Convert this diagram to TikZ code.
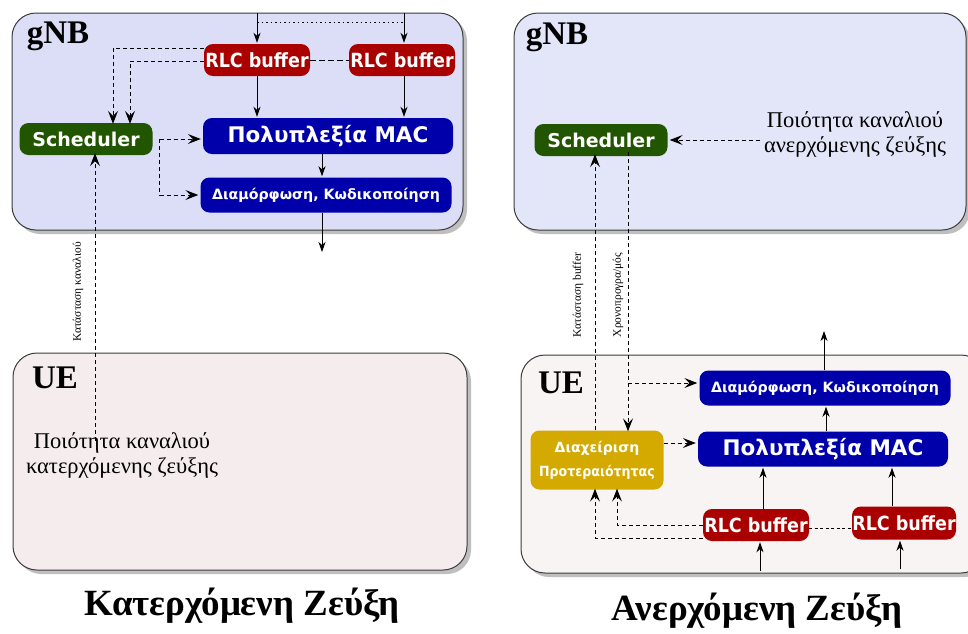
\documentclass[tikz,border=0pt]{standalone}
\usepackage{fontspec}
\setmainfont{Liberation Serif}
\newfontfamily\boxfont{DejaVu Sans}
\newfontfamily\condfont{DejaVu Sans Condensed}
\usetikzlibrary{arrows.meta,shadows}

\definecolor{gnbL}{RGB}{219,222,246}
\definecolor{gnbR}{RGB}{227,230,248}
\definecolor{ueL}{RGB}{244,236,237}
\definecolor{ueR}{RGB}{249,244,244}
\definecolor{rlcred}{RGB}{170,0,0}
\definecolor{macblue}{RGB}{0,0,170}
\definecolor{schedgreen}{RGB}{34,85,0}
\definecolor{prioyellow}{RGB}{212,170,0}
\definecolor{frame}{RGB}{60,60,60}

\tikzset{
  x=1pt, y=-1pt,
  area/.style={draw=frame, line width=1pt, rounded corners=24pt,
    drop shadow={shadow xshift=4pt, shadow yshift=-4pt, opacity=0.5}},
  block/.style={rounded corners=9pt, text=white, inner sep=0pt, font=\boxfont\bfseries},
  rlcbox/.style={block, fill=rlcred, minimum width=106pt, minimum height=32pt,
    font=\condfont\bfseries\fontsize{19.5}{22}\selectfont},
  schedbox/.style={block, fill=schedgreen, minimum width=133pt, minimum height=32pt,
    font=\boxfont\bfseries\fontsize{19}{22}\selectfont},
  macbox/.style={block, fill=macblue, minimum width=250pt, minimum height=36pt,
    font=\boxfont\bfseries\fontsize{21.5}{24}\selectfont},
  modbox/.style={block, fill=macblue, minimum width=251pt, minimum height=35pt,
    font=\boxfont\bfseries\fontsize{14.2}{16}\selectfont},
  priobox/.style={block, fill=prioyellow, minimum width=133pt, minimum height=59pt,
    align=center, font=\boxfont\bfseries\fontsize{14}{24}\selectfont},
  areatitle/.style={font=\bfseries\fontsize{33}{36}\selectfont},
  quality/.style={align=center, inner sep=0pt, font=\fontsize{22.5}{25}\selectfont},
  sidelabel/.style={rotate=90, inner sep=0pt, font=\fontsize{11.5}{13}\selectfont},
  caption/.style={font=\bfseries\fontsize{37}{40}\selectfont},
  ctrl/.style={draw=black, line width=1pt, dash pattern=on 4pt off 3pt,
    -{Stealth[length=13pt, width=10pt, inset=5pt]}, shorten >=2pt},
  data/.style={draw=black, line width=0.9pt,
    -{Stealth[length=10pt, width=7pt, inset=3pt]}, shorten >=1pt},
  link/.style={draw=black, line width=1pt, dash pattern=on 6pt off 3pt},
  linkdot/.style={draw=black, line width=1pt, dash pattern=on 1.5pt off 3pt},
}

\begin{document}
\begin{tikzpicture}
\useasboundingbox (0,0) rectangle (968,633);

% ---------------- downlink ----------------
\draw[area, fill=gnbL] (12,13) rectangle (463,230);
\draw[area, fill=ueL] (13,353) rectangle (467,570);

\node[areatitle] (lgnb) at (58,36) {gNB};
\node[areatitle] (lue) at (55,378) {UE};

\node[rlcbox] (lr1) at (257,60) {RLC buffer};
\node[rlcbox] (lr2) at (402,60) {RLC buffer};
\node[schedbox] (ls) at (86,139) {Scheduler};
\node[macbox] (lm) at (328,136) {Πολυπλεξία MAC};
\node[modbox] (ld) at (326,195) {Διαμόρφωση, Κωδικοποίηση};

\coordinate (lin1) at (257,13);
\coordinate (lin2) at (404,13);
\coordinate (lout) at (322,253);

\draw[data] (lin1) -- (lr1.north);
\draw[data] (lin2) -- (lin2 |- lr2.north);
\draw[linkdot] ([yshift=-9pt]lin1) -- ([yshift=-9pt]lin2);
\draw[link] (lr1.east) -- (lr2.west);

\draw[ctrl] ([yshift=12pt]lr1.west) -| ([xshift=27pt,yshift=-3pt]ls.north);
\draw[ctrl] ([yshift=-1pt]lr1.west) -| ([xshift=44pt,yshift=-3pt]ls.north);

\draw[data] (lr1.south) -- (lr1.south |- lm.north);
\draw[data] (lin2 |- lr2.south) -- (lin2 |- lm.north);

\draw[ctrl] ([xshift=7pt]ls.east) -- (ls.east -| lm.west);
\draw[ctrl] ([xshift=7pt]ls.east) |- (ld.west);

\draw[data] ([xshift=-6pt]lm.south) -- ([xshift=-4pt]ld.north);
\draw[data] ([xshift=-4pt]ld.south) -- (lout);

\node[quality] (lq) at (122,455) {Ποιότητα καναλιού\\κατερχόμενης ζεύξης};
\draw[ctrl] ([xshift=-27pt,yshift=-9pt]lq.north) -- ([xshift=9pt,yshift=4pt]ls.south);
\node[sidelabel] (lcs) at (78,292) {Κατάσταση καναλιού};

\node[caption] (lcap) at (242,606) {Κατερχόμενη Ζεύξη};

% ---------------- uplink ----------------
\draw[area, fill=gnbR] (514,13) rectangle (966,230);
\draw[area, fill=ueR] (521,355) rectangle (985,573);

\node[areatitle] (rgnb) at (557,37) {gNB};
\node[areatitle] (rue) at (561,383) {UE};

\node[schedbox] (rs) at (601,140) {Scheduler};
\node[quality] (rq) at (855,134) {Ποιότητα καναλιού\\ανερχόμενης ζεύξης};
\draw[ctrl] ([xshift=-4pt]rq.west |- rs.east) -- (rs.east);

\node[modbox] (rd) at (825,388) {Διαμόρφωση, Κωδικοποίηση};
\node[macbox, minimum height=35pt] (rm) at (823,449) {Πολυπλεξία MAC};
\node[priobox] (rp) at (597,460) {Διαχείριση\\{\condfont Προτεραιότητας}};
\node[rlcbox] (rr1) at (756,525) {RLC buffer};
\node[rlcbox, minimum width=104pt, minimum height=33pt] (rr2) at (904,523) {RLC buffer};

\coordinate (rin1) at (760,571);
\coordinate (rin2) at (900,569);
\coordinate (rout) at (824,330);

\draw[ctrl] ([xshift=27pt,yshift=4pt]rs.south) -- ([xshift=31pt,yshift=-3pt]rp.north);
\draw[ctrl] ([xshift=27pt]rs.south |- rd.west) ++(0,-5) -- ([yshift=5pt]rd.west);
\draw[ctrl] ([xshift=-2pt]rp.north) -- ([xshift=-6pt,yshift=4pt]rs.south);
\node[sidelabel] (rcs) at (578,295) {Κατάσταση buffer};
\node[sidelabel] (rcp) at (618,295) {Χρονοπρογρα/μός};

\draw[ctrl] ([yshift=17pt]rp.east) -- ([yshift=17pt]rp.east -| rm.west);

\draw[data] ([xshift=7pt]rr1.north) -- ([xshift=7pt]rr1.north |- rm.south);
\draw[data] ([xshift=-12pt]rr2.north) -- ([xshift=-12pt]rr2.north |- rm.south);
\draw[data] ([xshift=3pt]rm.north) -- ([xshift=1pt]rd.south);
\draw[data] ([xshift=-1pt]rd.north) -- (rout);
\draw[data] (rin1) -- (rin1 |- rr1.south);
\draw[data] (rin2) -- (rin2 |- rr2.south);

\draw[linkdot, dash pattern=on 3pt off 2.5pt] ([yshift=-3pt]rr1.east) -- ([yshift=-3pt]rr1.east -| rr2.west);
\draw[ctrl] (rr1.west) -| ([xshift=20pt,yshift=3pt]rp.south);
\draw[ctrl] ([yshift=-13pt]rr1.west) -| ([xshift=-2pt,yshift=3pt]rp.south);

\node[caption] (rcap) at (757,611) {Ανερχόμενη Ζεύξη};
\end{tikzpicture}
\end{document}
